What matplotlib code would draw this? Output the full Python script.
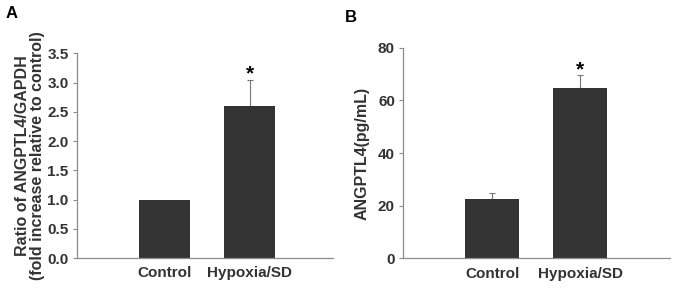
import matplotlib
matplotlib.use("Agg")
import matplotlib.pyplot as plt

plt.rcParams["font.family"] = ["Liberation Sans", "DejaVu Sans"]
plt.rcParams["font.weight"] = "bold"
plt.rcParams["axes.labelweight"] = "bold"

categories = ["Control", "Hypoxia/SD"]
ratio_vals = [1.0, 2.6]
ratio_err = [0.0, 0.44]
conc_vals = [22.5, 64.8]
conc_err = [2.3, 4.8]

BAR = "#333333"
AXIS = "#8c8c8c"
TEXT = "#333333"

fig = plt.figure(figsize=(6.77, 2.98), dpi=100)
axA = fig.add_axes([0.1137, 0.1342, 0.378, 0.687])
axB = fig.add_axes([0.5957, 0.1332, 0.394, 0.7067])


def style(ax, ylim, yticks, fmt):
    ax.set_ylim(*ylim)
    ax.set_yticks(yticks)
    ax.set_yticklabels([fmt.format(t) for t in yticks])
    ax.set_xticks(range(len(categories)))
    ax.set_xticklabels(categories)
    for s in ["top", "right"]:
        ax.spines[s].set_visible(False)
    for s in ["left", "bottom"]:
        ax.spines[s].set_color(AXIS)
        ax.spines[s].set_linewidth(0.9)
    ax.tick_params(axis="y", length=3, width=0.8, color=AXIS, labelsize=11,
                   labelcolor=TEXT, pad=3)
    ax.tick_params(axis="x", length=0, labelsize=11, labelcolor=TEXT, pad=6)


# Panel A
x = range(len(categories))
axA.bar(x, ratio_vals, width=0.6, color=BAR, zorder=2)
axA.errorbar([1], [ratio_vals[1]], yerr=[[0], [ratio_err[1]]], fmt="none",
             ecolor="#777777", elinewidth=0.8, capsize=2.5, capthick=0.8, zorder=1)
axA.text(1, ratio_vals[1] + ratio_err[1] - 0.06, "*", ha="center", va="bottom",
         fontsize=15, fontweight="bold", color="black")
axA.set_xlim(-1.03, 1.98)
style(axA, (0, 3.5), [0, 0.5, 1.0, 1.5, 2.0, 2.5, 3.0, 3.5], "{:.1f}")
axA.set_ylabel("Ratio of ANGPTL4/GAPDH\n(fold increase relative to control)",
               fontsize=11.5, fontweight="bold", color=TEXT, labelpad=2,
               linespacing=1.0)

# Panel B
axB.bar(x, conc_vals, width=0.61, color=BAR, zorder=2)
axB.errorbar(list(x), conc_vals, yerr=[[0, 0], conc_err], fmt="none",
             ecolor="#777777", elinewidth=0.8, capsize=2.5, capthick=0.8, zorder=1)
axB.text(1, conc_vals[1] + conc_err[1] - 1.5, "*", ha="center", va="bottom",
         fontsize=15, fontweight="bold", color="black")
axB.set_xlim(-1.01, 2.02)
style(axB, (0, 80), [0, 20, 40, 60, 80], "{:.0f}")
axB.set_ylabel("ANGPTL4(pg/mL)", fontsize=11.5, fontweight="bold", color=TEXT,
               labelpad=6)

fig.text(0.008, 0.955, "A", fontsize=12, fontweight="bold", ha="left", va="center")
fig.text(0.510, 0.94, "B", fontsize=12, fontweight="bold", ha="left", va="center")

fig.savefig("out.png", dpi=100)
